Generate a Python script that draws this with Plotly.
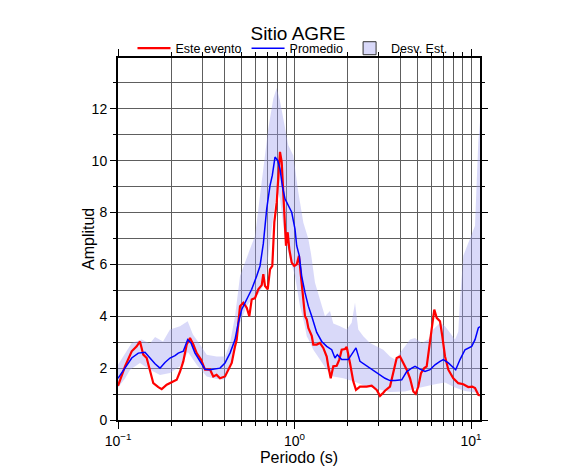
import plotly.graph_objects as go

# ---- data ----
red_T = [0.100, 0.1096, 0.1196, 0.1276, 0.1332, 0.1391, 0.1454, 0.1518, 0.1585, 0.1692,
         0.1769, 0.1888, 0.2015, 0.2151, 0.2246, 0.2344, 0.2450, 0.2558, 0.2671, 0.2792,
         0.2953, 0.3111, 0.3321, 0.3467, 0.3618, 0.3784, 0.4039, 0.4217, 0.4409, 0.4603,
         0.4706, 0.4913, 0.5129, 0.5362, 0.5546, 0.5722, 0.5974, 0.6237, 0.6520, 0.6657,
         0.6807, 0.7051, 0.7265, 0.7486, 0.7685, 0.7929, 0.8094, 0.8275, 0.8461, 0.8639,
         0.8834, 0.8949, 0.9150, 0.9342, 0.9641, 0.9974, 1.029, 1.060, 1.088, 1.122,
         1.147, 1.173, 1.198, 1.252, 1.278, 1.336, 1.394, 1.456, 1.522, 1.554,
         1.604, 1.659, 1.734, 1.794, 1.851, 1.932, 1.976, 2.062, 2.153, 2.230,
         2.350, 2.564, 2.737, 2.922, 3.051, 3.185, 3.256, 3.476, 3.629, 3.793,
         3.960, 4.135, 4.323, 4.514, 4.712, 4.862, 5.030, 5.208, 5.437, 5.610,
         5.781, 5.988, 6.195, 6.392, 6.674, 6.878, 7.125, 7.439, 7.938, 8.473,
         9.044, 9.654, 10.17, 10.54, 11.00, 11.24]
red_A = [1.32, 2.07, 2.65, 2.84, 3.03, 2.52, 2.39, 1.94, 1.42, 1.27,
         1.19, 1.36, 1.45, 1.55, 1.87, 2.26, 2.91, 3.16, 2.91, 2.58,
         2.33, 1.94, 1.95, 1.68, 1.74, 1.61, 1.68, 1.94, 2.20, 2.84,
         3.10, 4.39, 4.52, 4.33, 4.00, 4.65, 4.70, 5.04, 5.20, 5.62,
         5.17, 5.04, 5.81, 5.94, 7.62, 8.40, 9.43, 10.34, 9.95, 8.79,
         7.88, 6.72, 7.24, 6.59, 6.07, 5.94, 6.00, 6.33, 5.55, 4.78,
         4.00, 3.88, 3.55, 3.25, 2.91, 2.91, 2.97, 2.78, 2.45, 2.07,
         1.61, 2.07, 2.09, 2.33, 2.71, 2.74, 2.82, 2.20, 1.49, 1.16,
         1.29, 1.29, 1.32, 1.16, 0.93, 1.05, 1.13, 1.29, 1.81, 2.39,
         2.45, 2.20, 1.94, 1.61, 1.10, 1.01, 1.29, 1.81, 2.00, 2.07,
         2.71, 3.62, 4.26, 3.94, 3.81, 3.23, 2.45, 1.94, 1.61, 1.42,
         1.38, 1.27, 1.29, 1.23, 0.97, 0.95]

blue_T = [0.100, 0.1096, 0.1196, 0.1303, 0.1422, 0.1518, 0.1621, 0.1729, 0.1846, 0.1971,
          0.2104, 0.2195, 0.2344, 0.2482, 0.2592, 0.2731, 0.2915, 0.3111, 0.3321, 0.3784,
          0.4039, 0.4312, 0.4603, 0.4806, 0.5022, 0.5362, 0.5722, 0.6107, 0.6377, 0.6657,
          0.6959, 0.7265, 0.7486, 0.7754, 0.8031, 0.8275, 0.8528, 0.8834, 0.9222, 0.9641,
          1.0065, 1.029, 1.065, 1.098, 1.147, 1.198, 1.252, 1.306, 1.336, 1.426,
          1.522, 1.625, 1.696, 1.748, 1.851, 2.017, 2.136, 2.230, 2.350, 2.508,
          2.677, 2.858, 3.051, 3.256, 3.476, 3.710, 4.050, 4.323, 4.615, 4.818,
          5.140, 5.488, 5.857, 6.252, 6.674, 6.969, 7.439, 8.191, 8.664, 9.247,
          10.09, 10.54, 11.00, 11.24]
blue_A = [1.61, 2.00, 2.39, 2.58, 2.61, 2.39, 2.17, 2.00, 2.22, 2.39,
          2.48, 2.58, 2.65, 3.10, 2.97, 2.58, 2.26, 1.96, 1.94, 2.00,
          2.20, 2.58, 3.10, 3.75, 4.26, 4.65, 5.04, 5.55, 5.94, 6.80,
          8.14, 9.04, 9.43, 10.14, 10.01, 9.69, 9.04, 8.53, 8.27, 8.01,
          7.36, 6.72, 6.33, 5.55, 4.91, 4.39, 4.00, 3.55, 3.38, 3.03,
          2.84, 2.71, 2.39, 2.52, 2.33, 2.33, 2.58, 2.78, 2.26, 2.13,
          2.00, 1.87, 1.74, 1.61, 1.52, 1.52, 1.55, 1.87, 2.00, 2.07,
          1.96, 1.87, 1.94, 2.13, 2.26, 2.33, 2.20, 1.94, 2.33, 2.71,
          2.84, 3.10, 3.55, 3.60]

upper_T = [0.100, 0.1196, 0.1362, 0.1518, 0.1621, 0.1799, 0.1971, 0.2246, 0.2482, 0.2658,
           0.2915, 0.3181, 0.3618, 0.4039, 0.4313, 0.4603, 0.4913, 0.5362, 0.5597, 0.5974,
           0.6520, 0.7106, 0.7586, 0.7929, 0.8275, 0.8834, 0.9222, 0.9844, 1.0508, 1.122,
           1.198, 1.241, 1.306, 1.394, 1.488, 1.589, 1.659, 1.811, 1.976, 2.108,
           2.202, 2.298, 2.453, 2.677, 2.922, 3.185, 3.476, 3.710, 4.228, 4.514,
           4.818, 5.256, 5.729, 6.114, 6.674, 7.125, 7.603, 8.116, 8.473, 8.664,
           9.044, 9.870, 10.54, 10.77, 11.00, 11.24]
upper_A = [2.13, 2.97, 3.10, 2.95, 3.20, 3.03, 3.49, 3.62, 3.81, 3.30,
           2.91, 2.52, 2.45, 2.45, 2.97, 4.00, 5.55, 6.20, 6.59, 7.10,
           9.17, 11.24, 12.40, 12.80, 12.30, 11.24, 10.60, 10.20, 8.79, 7.62,
           6.98, 6.40, 5.30, 4.65, 4.00, 4.20, 3.72, 3.62, 3.49, 3.75,
           4.52, 3.49, 3.23, 2.97, 2.84, 2.71, 2.45, 2.33, 2.84, 3.10,
           3.16, 2.97, 3.10, 3.49, 3.75, 3.62, 3.36, 3.10, 3.40, 4.65,
           6.33, 6.98, 7.49, 9.17, 10.72, 11.50]

lower_T = [0.100, 0.1096, 0.1170, 0.1332, 0.1518, 0.1729, 0.1971, 0.2246, 0.2490, 0.2792,
           0.3181, 0.3618, 0.4039, 0.4313, 0.4603, 0.4913, 0.5362, 0.5722, 0.6237, 0.6807,
           0.7106, 0.7586, 0.7929, 0.8275, 0.8834, 0.9430, 1.0065, 1.074, 1.147, 1.173,
           1.224, 1.278, 1.394, 1.522, 1.659, 1.890, 2.153, 2.564, 3.051, 3.476,
           4.228, 5.030, 6.252, 7.125, 8.116, 9.247, 11.24]
lower_A = [1.25, 1.60, 1.94, 2.20, 1.94, 1.74, 1.81, 2.07, 2.62, 2.13,
           1.68, 1.58, 1.55, 2.07, 2.71, 3.75, 4.39, 4.65, 4.85, 5.30,
           6.33, 7.88, 8.90, 8.53, 6.98, 6.20, 5.55, 4.40, 3.60, 3.23,
           3.00, 2.71, 2.33, 1.94, 1.68, 1.61, 1.49, 1.29, 1.16, 1.08,
           1.10, 1.23, 1.38, 1.45, 1.25, 1.12, 1.03]

x_major = [0.1, 1, 10]
x_major_text = ["10<sup>\u22121</sup>", "10<sup>0</sup>", "10<sup>1</sup>"]
x_minor = [m * d for d in (0.1, 1, 10) for m in range(2, 10) if m * d < 11.3]
y_major = [0, 2, 4, 6, 8, 10, 12]

labels = ["Este evento", "Promedio", "Desv. Est."]
title_text = "Sitio AGRE"
x_title = "Periodo (s)"
y_title = "Amplitud"

FONT = "Liberation Sans, Arial, Helvetica, sans-serif"
band_fill = "rgba(160,160,240,0.40)"

W, H = 578, 467   # page body adds an 8px offset

fig = go.Figure()
# band polygon: upper then lower reversed
fig.add_trace(go.Scatter(
    x=upper_T + lower_T[::-1], y=upper_A + lower_A[::-1],
    fill="toself", fillcolor=band_fill, line=dict(width=0),
    mode="lines", showlegend=False, hoverinfo="skip"))
fig.add_trace(go.Scatter(x=red_T, y=red_A, mode="lines", name=labels[0],
                         line=dict(color="#ff0000", width=2.2)))
fig.add_trace(go.Scatter(x=blue_T, y=blue_A, mode="lines", name=labels[1],
                         line=dict(color="#0000ff", width=1.5)))
fig.add_trace(go.Scatter(x=[None], y=[None], mode="markers", name=labels[2],
                         marker=dict(symbol="square", size=13, color="#d9d9f9",
                                     line=dict(color="#333333", width=1))))

fig.update_layout(
    width=W, height=H,
    margin=dict(l=110, r=106, t=50, b=55, autoexpand=False),
    paper_bgcolor="white", plot_bgcolor="white",
    font=dict(family=FONT, color="black"),
    title=dict(text=title_text, x=(110 + 180) / W, xanchor="center", y=1 - 25.5 / H,
               yanchor="middle", font=dict(size=19, family=FONT)),
    legend=dict(orientation="h", x=0.482, xanchor="center", y=1.026, yanchor="middle",
                font=dict(size=12.5, family=FONT), bgcolor="rgba(0,0,0,0)",
                itemwidth=33, tracegroupgap=0),
    showlegend=True,
    annotations=[dict(text=y_title, xref="paper", yref="paper", x=-30 / 362, y=0.5,
                      xanchor="center", yanchor="middle", textangle=-90, showarrow=False,
                      font=dict(size=16, family=FONT))],
)

fig.update_xaxes(
    type="log", range=[-1, 1.051], automargin=False,
    tickvals=x_major, ticktext=x_major_text,
    ticks="outside", ticklen=7, tickwidth=1, tickcolor="black",
    showline=True, linewidth=2, linecolor="black", mirror="allticks",
    showgrid=True, gridcolor="#5e5e5e", gridwidth=1,
    minor=dict(tickvals=x_minor, ticks="outside", ticklen=4, tickcolor="black",
               showgrid=True, gridcolor="#5e5e5e", gridwidth=1),
    tickfont=dict(size=14, family=FONT),
    title=dict(text=x_title, font=dict(size=16, family=FONT), standoff=0),
    zeroline=False,
)
fig.update_yaxes(
    range=[0, 13.96], tickvals=y_major, automargin=False,
    ticks="outside", ticklen=6, tickwidth=1, tickcolor="black",
    showline=True, linewidth=2, linecolor="black", mirror="allticks",
    showgrid=True, gridcolor="#5e5e5e", gridwidth=1,
    minor=dict(dtick=1, tick0=0, ticks="outside", ticklen=3, tickcolor="black",
               showgrid=True, gridcolor="#5e5e5e", gridwidth=1),
    tickfont=dict(size=14, family=FONT),
    zeroline=False,
)

fig.write_html("out.html")
